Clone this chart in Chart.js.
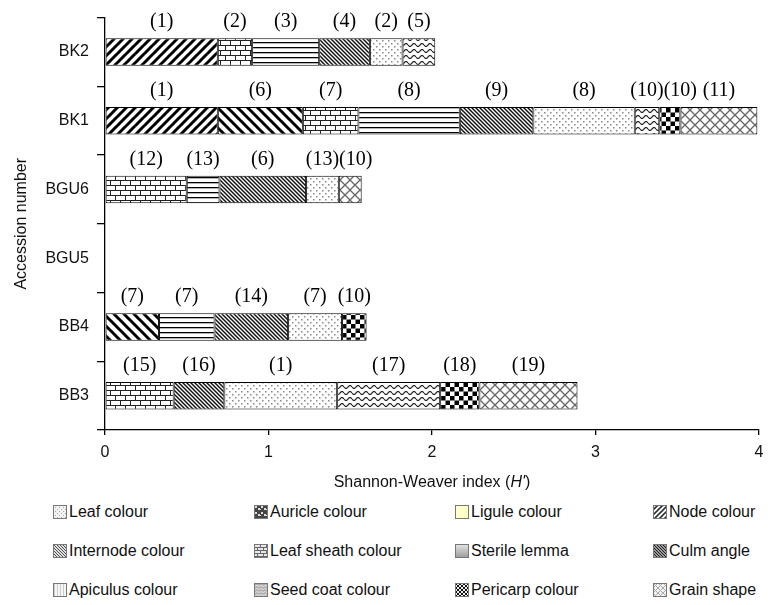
<!DOCTYPE html>
<html>
<head>
<meta charset="utf-8">
<script src="https://cdn.jsdelivr.net/npm/chart.js@4.4.1/dist/chart.umd.min.js"></script>
<style>
  body { margin: 0; background: #fff; }
  #wrap { position: relative; width: 775px; height: 605px; }
  #chart { display: block; }
  .item { position: absolute; display: flex; align-items: center; height: 18px;
          font: 16px "Liberation Sans", Arial, sans-serif; color: #111; white-space: nowrap; }
  .item canvas { width: 14px; height: 14px; margin-right: 2px; }
</style>
</head>
<body>
<div id="wrap">
  <canvas id="chart" width="775" height="500"></canvas>
  <div id="legend"></div>
</div>
<script>
const categories = ['BK2', 'BK1', 'BGU6', 'BGU5', 'BB4', 'BB3'];

// H' of each trait segment, left to right
const bk2Values  = [0.69, 0.21, 0.41, 0.31, 0.20, 0.20];
const bk1Values  = [0.69, 0.52, 0.34, 0.62, 0.45, 0.62, 0.15, 0.13, 0.47];
const bgu6Values = [0.50, 0.20, 0.53, 0.20, 0.14];
const bgu5Values = [];
const bb4Values  = [0.33, 0.34, 0.45, 0.33, 0.15];
const bb3Values  = [0.42, 0.31, 0.69, 0.63, 0.24, 0.60];

const bk2Labels  = ['(1)', '(2)', '(3)', '(4)', '(2)', '(5)'];
const bk1Labels  = ['(1)', '(6)', '(7)', '(8)', '(9)', '(8)', '(10)', '(10)', '(11)'];
const bgu6Labels = ['(12)', '(13)', '(6)', '(13)', '(10)'];
const bgu5Labels = [];
const bb4Labels  = ['(7)', '(7)', '(14)', '(7)', '(10)'];
const bb3Labels  = ['(15)', '(16)', '(1)', '(17)', '(18)', '(19)'];

const xTicks = [0, 1, 2, 3, 4];

const legendNames = ['Leaf colour', 'Auricle colour', 'Ligule colour', 'Node colour',
  'Internode colour', 'Leaf sheath colour', 'Sterile lemma', 'Culm angle',
  'Apiculus colour', 'Seed coat colour', 'Pericarp colour', 'Grain shape'];

const allValues = [bk2Values, bk1Values, bgu6Values, bgu5Values, bb4Values, bb3Values];
const allLabels = [bk2Labels, bk1Labels, bgu6Labels, bgu5Labels, bb4Labels, bb3Labels];

// fill style of each segment
const fills = [
  ['node', 'brick', 'horiz', 'dense', 'dots', 'wave'],
  ['node', 'back', 'brick', 'horiz', 'dense', 'dots', 'wave', 'checker', 'diamond'],
  ['brick', 'horiz', 'dense', 'dots', 'diamond'],
  [],
  ['back', 'horiz', 'dense', 'dots', 'checker'],
  ['brick', 'dense', 'dots', 'wave', 'checker', 'diamond']
];
const legendFills = ['speckle', 'blotch', 'ligule', 'nodeSmall', 'internode', 'sheath',
  'lemma', 'culm', 'apiculus', 'seedcoat', 'pericarp', 'grain'];

const FONT = '"Liberation Sans", Arial, sans-serif';

function makeTile(w, h, draw) {
  const c = document.createElement('canvas');
  c.width = w; c.height = h;
  const g = c.getContext('2d');
  draw(g, w, h);
  return c;
}

function diagTile(size, lw, color, bg, forward) {
  return makeTile(size, size, g => {
    g.fillStyle = bg; g.fillRect(0, 0, size, size);
    g.strokeStyle = color; g.lineWidth = lw;
    for (const o of [-size, 0, size]) {
      g.beginPath();
      if (forward) { g.moveTo(o - 1, size + 1); g.lineTo(o + size + 1, -1); }
      else { g.moveTo(o - 1, -1); g.lineTo(o + size + 1, size + 1); }
      g.stroke();
    }
  });
}

function brickTile(w, h, color, bg, lw) {
  return makeTile(w, h, g => {
    g.fillStyle = bg; g.fillRect(0, 0, w, h);
    g.strokeStyle = color; g.lineWidth = lw;
    g.beginPath();
    g.moveTo(0, 0.5); g.lineTo(w, 0.5);
    g.moveTo(0, h / 2 + 0.5); g.lineTo(w, h / 2 + 0.5);
    g.moveTo(0.5, 0); g.lineTo(0.5, h / 2);
    g.moveTo(w / 2 + 0.5, h / 2); g.lineTo(w / 2 + 0.5, h);
    g.stroke();
  });
}

function waveTile(w, h, color, bg, lw) {
  return makeTile(w, h, g => {
    g.fillStyle = bg; g.fillRect(0, 0, w, h);
    g.strokeStyle = color; g.lineWidth = lw;
    g.beginPath();
    for (let x = 0; x <= w; x += 0.5) {
      const y = h / 2 + (h / 4) * Math.sin(2 * Math.PI * x / w);
      if (x === 0) g.moveTo(x, y); else g.lineTo(x, y);
    }
    g.stroke();
  });
}

function checkerTile(size, color, bg) {
  return makeTile(size, size, g => {
    g.fillStyle = bg; g.fillRect(0, 0, size, size);
    g.fillStyle = color;
    g.fillRect(0, 0, size / 2, size / 2);
    g.fillRect(size / 2, size / 2, size / 2, size / 2);
  });
}

function diamondTile(size, color, bg, lw) {
  return makeTile(size, size, g => {
    g.fillStyle = bg; g.fillRect(0, 0, size, size);
    g.strokeStyle = color; g.lineWidth = lw;
    g.beginPath();
    g.moveTo(0, 0); g.lineTo(size, size);
    g.moveTo(0, size); g.lineTo(size, 0);
    g.stroke();
  });
}

const tiles = {
  node: diagTile(9, 3, '#000', '#fff', true),
  back: diagTile(10, 3, '#000', '#fff', false),
  dense: diagTile(4, 1.5, '#111', '#fff', false),
  horiz: makeTile(4, 5, g => {
    g.fillStyle = '#fff'; g.fillRect(0, 0, 4, 5);
    g.fillStyle = '#000'; g.fillRect(0, 2, 4, 1.3);
  }),
  brick: brickTile(10, 10, '#222', '#fff', 1),
  dots: makeTile(6, 6, g => {
    g.fillStyle = '#fff'; g.fillRect(0, 0, 6, 6);
    g.fillStyle = '#888';
    g.fillRect(1, 1, 1.5, 1.5); g.fillRect(4, 4, 1.5, 1.5);
  }),
  wave: waveTile(8, 6, '#222', '#fff', 1.2),
  checker: checkerTile(9, '#000', '#fff'),
  diamond: diamondTile(10, '#666', '#fff', 1.3),
  // legend swatches
  speckle: makeTile(4, 4, g => {
    g.fillStyle = '#f2f2f2'; g.fillRect(0, 0, 4, 4);
    g.fillStyle = '#aaa'; g.fillRect(0, 0, 1, 1); g.fillRect(2, 2, 1, 1);
  }),
  blotch: makeTile(6, 6, g => {
    g.fillStyle = '#444'; g.fillRect(0, 0, 6, 6);
    g.fillStyle = '#ddd'; g.fillRect(1, 1, 2, 2); g.fillRect(4, 3, 2, 2); g.fillRect(0, 4, 1, 1);
  }),
  ligule: makeTile(2, 2, g => { g.fillStyle = '#ffffc8'; g.fillRect(0, 0, 2, 2); }),
  nodeSmall: diagTile(5, 1.6, '#333', '#fff', true),
  internode: diagTile(3, 1, '#555', '#ddd', false),
  sheath: brickTile(6, 6, '#666', '#e8e8e8', 1),
  lemma: null,
  culm: diagTile(3, 1, '#222', '#999', false),
  apiculus: makeTile(3, 2, g => {
    g.fillStyle = '#f6f6f6'; g.fillRect(0, 0, 3, 2);
    g.fillStyle = '#ccc'; g.fillRect(1, 0, 1, 2);
  }),
  seedcoat: waveTile(4, 3, '#888', '#d4d4d4', 1),
  pericarp: checkerTile(4, '#111', '#eee'),
  grain: diamondTile(5, '#aaa', '#f2f2f2', 1)
};

const canvas = document.getElementById('chart');
const ctx = canvas.getContext('2d');
const pat = name => ctx.createPattern(tiles[name], 'repeat');

const segCount = Math.max(...allValues.map(v => v.length));
const datasets = [];
for (let i = 0; i < segCount; i++) {
  datasets.push({
    data: allValues.map(v => (v[i] === undefined ? null : v[i])),
    backgroundColor: fills.map(f => (f[i] ? pat(f[i]) : 'rgba(0,0,0,0)')),
    borderColor: '#000',
    borderWidth: 1,
    borderSkipped: false,
    categoryPercentage: 1,
    barPercentage: 0.4
  });
}

const segmentLabels = {
  id: 'segmentLabels',
  afterDatasetsDraw(chart) {
    const c = chart.ctx;
    c.save();
    c.font = '20px "Liberation Serif", "Times New Roman", serif';
    c.fillStyle = '#000';
    c.textAlign = 'center';
    c.textBaseline = 'alphabetic';
    categories.forEach((cat, j) => {
      let prevRight = -Infinity;
      allLabels[j].forEach((txt, i) => {
        const el = chart.getDatasetMeta(i).data[j];
        if (!el || allValues[j][i] == null) return;
        const w = c.measureText(txt).width;
        let cx = (el.x + el.base) / 2;
        if (cx - w / 2 < prevRight) cx = prevRight + w / 2;
        prevRight = cx + w / 2;
        c.fillText(txt, cx, el.y - el.height / 2 - 11);
      });
    });
    c.restore();
  }
};

const axisTitles = {
  id: 'axisTitles',
  afterDraw(chart) {
    const c = chart.ctx;
    const a = chart.chartArea;
    c.save();
    c.fillStyle = '#111';
    c.font = '16px ' + FONT;
    c.textBaseline = 'middle';
    c.textAlign = 'center';
    c.translate(22, (a.top + a.bottom) / 2);
    c.rotate(-Math.PI / 2);
    c.fillText('Accession number', 0, 0);
    c.restore();

    c.save();
    c.fillStyle = '#111';
    c.textBaseline = 'middle';
    c.textAlign = 'left';
    const parts = [['Shannon-Weaver index (', ''], ["H'", 'italic '], [')', '']];
    let total = 0;
    parts.forEach(p => { c.font = p[1] + '16px ' + FONT; total += c.measureText(p[0]).width; });
    let x = (a.left + a.right) / 2 - total / 2;
    const y = a.bottom + 53;
    parts.forEach(p => {
      c.font = p[1] + '16px ' + FONT;
      c.fillText(p[0], x, y);
      x += c.measureText(p[0]).width;
    });
    c.restore();
  }
};

new Chart(ctx, {
  type: 'bar',
  data: { labels: categories, datasets },
  options: {
    indexAxis: 'y',
    responsive: false,
    animation: false,
    layout: { padding: { left: 0, right: 16, top: 16, bottom: 0 } },
    plugins: { legend: { display: false }, tooltip: { enabled: false } },
    scales: {
      x: {
        stacked: true,
        min: xTicks[0],
        max: xTicks[xTicks.length - 1],
        afterBuildTicks: s => { s.ticks = xTicks.map(v => ({ value: v })); },
        afterFit: s => { s.height = 70; },
        ticks: { color: '#111', font: { size: 16, family: FONT }, padding: 8 },
        grid: { drawOnChartArea: false, tickLength: 5, color: '#000', lineWidth: 1.3 },
        border: { color: '#000', width: 1.3 }
      },
      y: {
        stacked: true,
        afterFit: s => { s.width = 105; },
        ticks: { color: '#111', font: { size: 16, family: FONT }, padding: 8 },
        grid: { drawOnChartArea: false, tickLength: 8, color: '#000', lineWidth: 1.3 },
        border: { color: '#000', width: 1.3 }
      }
    }
  },
  plugins: [segmentLabels, axisTitles]
});

// legend, 4 columns x 3 rows
const legendCols = [53, 254, 455, 653];
const legendRows = [512, 551, 590];
const legend = document.getElementById('legend');
legendNames.forEach((name, k) => {
  const item = document.createElement('div');
  item.className = 'item';
  item.style.left = legendCols[k % 4] + 'px';
  item.style.top = (legendRows[Math.floor(k / 4)] - 9) + 'px';
  const sw = document.createElement('canvas');
  sw.width = 14; sw.height = 14;
  const g = sw.getContext('2d');
  if (legendFills[k] === 'lemma') {
    const grad = g.createLinearGradient(0, 0, 0, 14);
    grad.addColorStop(0, '#e6e6e6'); grad.addColorStop(1, '#999');
    g.fillStyle = grad;
  } else {
    g.fillStyle = g.createPattern(tiles[legendFills[k]], 'repeat');
  }
  g.fillRect(0, 0, 14, 14);
  g.strokeStyle = '#777'; g.lineWidth = 1;
  g.strokeRect(0.5, 0.5, 13, 13);
  item.appendChild(sw);
  const span = document.createElement('span');
  span.textContent = name;
  item.appendChild(span);
  legend.appendChild(item);
});
</script>
</body>
</html>
